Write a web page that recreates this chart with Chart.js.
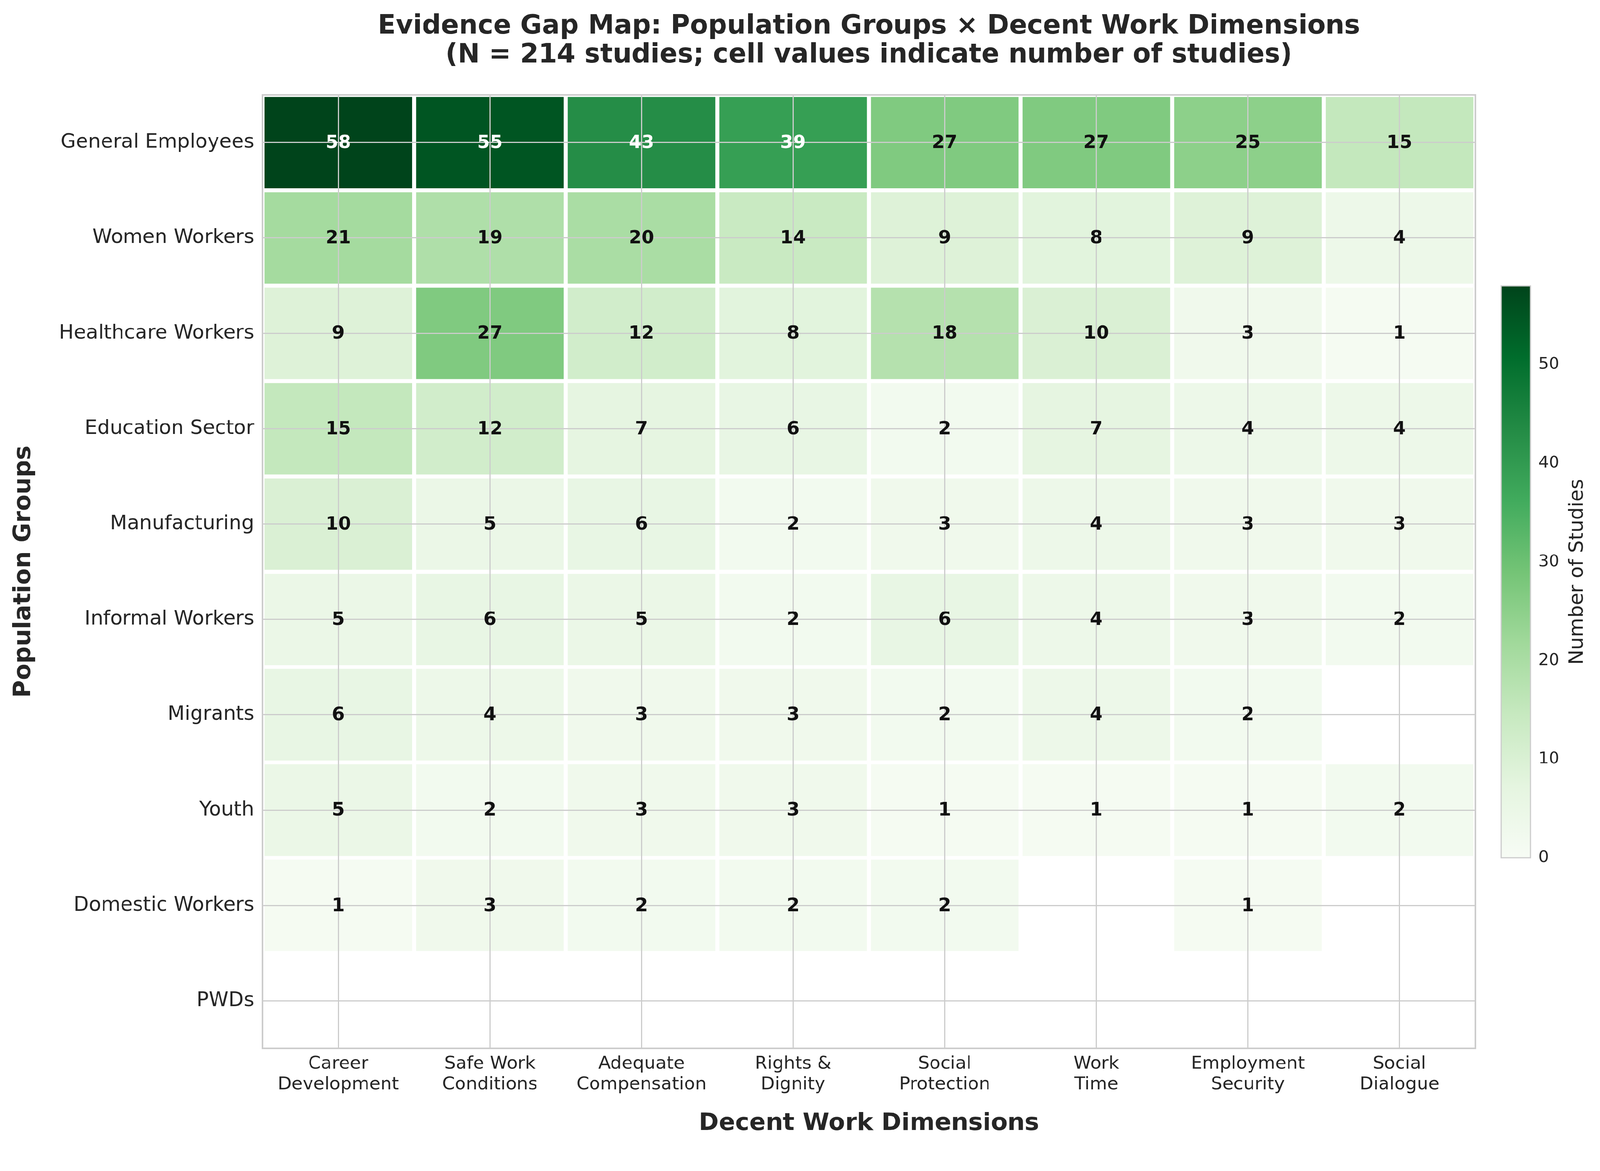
<!DOCTYPE html>
<html>
<head>
<meta charset="utf-8">
<title>Evidence Gap Map</title>
<script src="https://cdn.jsdelivr.net/npm/chart.js@4.4.1/dist/chart.umd.min.js"></script>
<style>
  html, body { margin: 0; padding: 0; background: #fff; overflow: hidden; }
  #wrap { position: relative; width: 4181px; height: 2998px; transform-origin: 0 0; }
  #heatmap { position: absolute; left: 0; top: 0; }
  #colorbar { position: absolute; left: 3900px; top: 700px; }
</style>
</head>
<body>
<div id="wrap">
  <canvas id="heatmap" width="4181" height="2998"></canvas>
  <canvas id="colorbar" width="281" height="1600"></canvas>
</div>
<script>
// --- data ---
const dimensionLabels = [
    ['Career', 'Development'], ['Safe Work', 'Conditions'], ['Adequate', 'Compensation'],
    ['Rights &', 'Dignity'], ['Social', 'Protection'], ['Work', 'Time'],
    ['Employment', 'Security'], ['Social', 'Dialogue']
];
const populationGroups = [
    'General Employees', 'Women Workers', 'Healthcare Workers', 'Education Sector',
    'Manufacturing', 'Informal Workers', 'Migrants', 'Youth', 'Domestic Workers', 'PWDs'
];

// studies per dimension, one array per population group (0 = no evidence, left blank)
const generalEmployees  = [58, 55, 43, 39, 27, 27, 25, 15];
const womenWorkers      = [21, 19, 20, 14, 9, 8, 9, 4];
const healthcareWorkers = [9, 27, 12, 8, 18, 10, 3, 1];
const educationSector   = [15, 12, 7, 6, 2, 7, 4, 4];
const manufacturing     = [10, 5, 6, 2, 3, 4, 3, 3];
const informalWorkers   = [5, 6, 5, 2, 6, 4, 3, 2];
const migrants          = [6, 4, 3, 3, 2, 4, 2, 0];
const youth             = [5, 2, 3, 3, 1, 1, 1, 2];
const domesticWorkers   = [1, 3, 2, 2, 2, 0, 1, 0];
const pwds              = [0, 0, 0, 0, 0, 0, 0, 0];

const colorbarTicks = [0, 10, 20, 30, 40, 50];
const colorMin = 0;
const colorMax = 58;

const titleLines = [
    'Evidence Gap Map: Population Groups \u00d7 Decent Work Dimensions',
    '(N = 214 studies; cell values indicate number of studies)'
];

const rowValues = [generalEmployees, womenWorkers, healthcareWorkers, educationSector,
    manufacturing, informalWorkers, migrants, youth, domesticWorkers, pwds];

// matplotlib "Greens"
const greensStops = ['#f7fcf5', '#e5f5e0', '#c7e9c0', '#a1d99b', '#74c476',
                     '#41ab5d', '#238b45', '#006d2c', '#00441b'];

// the layout below is in 4181x2998 figure pixels; fit it to whatever the viewport really is
const wrap = document.getElementById('wrap');
const fit = Math.min(window.innerWidth / 4181, window.innerHeight / 2998) || 1;
if (Math.abs(fit - 1) > 0.001) wrap.style.transform = `scale(${fit})`;

function hexToRgb(h) {
    return [parseInt(h.slice(1, 3), 16), parseInt(h.slice(3, 5), 16), parseInt(h.slice(5, 7), 16)];
}

function greensRgb(v) {
    let t = (v - colorMin) / (colorMax - colorMin);
    t = Math.max(0, Math.min(1, t));
    const pos = t * (greensStops.length - 1);
    const i = Math.min(Math.floor(pos), greensStops.length - 2);
    const f = pos - i;
    const a = hexToRgb(greensStops[i]), b = hexToRgb(greensStops[i + 1]);
    return a.map((c, k) => Math.round(c + (b[k] - c) * f));
}

function greens(v) {
    const [r, g, b] = greensRgb(v);
    return `rgb(${r}, ${g}, ${b})`;
}

// same rule seaborn uses to pick the annotation colour
function textColorFor(v) {
    const lin = greensRgb(v).map(c => {
        c = c / 255;
        return c <= 0.03928 ? c / 12.92 : Math.pow((c + 0.055) / 1.055, 2.4);
    });
    const lum = 0.2126 * lin[0] + 0.7152 * lin[1] + 0.0722 * lin[2];
    return lum > 0.408 ? '#111111' : '#ffffff';
}

Chart.defaults.font.family = "'DejaVu Sans', sans-serif";
Chart.defaults.color = '#262626';

const FONT = "'DejaVu Sans', sans-serif";
const GRID = '#cccccc';

// axes title centred over the plot area, frame and cell numbers on top
const heatmapOverlay = {
    id: 'heatmapOverlay',
    afterDraw(chart) {
        const { ctx, chartArea: ca, scales } = chart;
        ctx.save();
        ctx.strokeStyle = GRID;
        ctx.lineWidth = 4;
        ctx.strokeRect(ca.left, ca.top, ca.right - ca.left, ca.bottom - ca.top);

        ctx.textAlign = 'center';
        ctx.textBaseline = 'middle';
        ctx.fillStyle = '#262626';
        ctx.font = `bold 69px ${FONT}`;
        const cx = (ca.left + ca.right) / 2;
        titleLines.forEach((line, i) => ctx.fillText(line, cx, 70 + i * 75));

        ctx.font = `bold 48px ${FONT}`;
        rowValues.forEach((row, r) => {
            row.forEach((v, c) => {
                if (!v) return;
                ctx.fillStyle = textColorFor(v);
                ctx.fillText(String(v), scales.x.getPixelForValue(c), scales.y.getPixelForValue(r) + 2);
            });
        });
        ctx.restore();
    }
};

new Chart(document.getElementById('heatmap'), {
    type: 'bar',
    data: {
        labels: dimensionLabels,
        datasets: rowValues.map((row, r) => ({
            label: populationGroups[r],
            data: row.map(v => v > 0 ? [r - 0.5, r + 0.5] : null),
            backgroundColor: row.map(v => greens(v)),
            borderColor: '#ffffff',
            borderWidth: 5.5,
            borderSkipped: false,
            barPercentage: 1,
            categoryPercentage: 1,
            grouped: false
        }))
    },
    options: {
        responsive: false,
        devicePixelRatio: 1,
        animation: false,
        layout: { padding: { left: 0, right: 326, top: 248, bottom: 0 } },
        plugins: {
            legend: { display: false },
            tooltip: { enabled: false },
            title: { display: false }
        },
        scales: {
            x: {
                type: 'category',
                offset: true,
                grid: { offset: false, color: GRID, lineWidth: 3, drawTicks: false, z: 1 },
                border: { display: false },
                ticks: { font: { size: 47, lineHeight: 1.15 }, padding: 14, maxRotation: 0, autoSkip: false },
                title: {
                    display: true,
                    text: 'Decent Work Dimensions',
                    font: { size: 63, weight: 'bold' },
                    padding: { top: 24, bottom: 24 }
                },
                afterFit(scale) { scale.height = 258; }
            },
            y: {
                type: 'linear',
                min: -0.5,
                max: populationGroups.length - 0.5,
                reverse: true,
                grid: { color: GRID, lineWidth: 3, drawTicks: false, z: 1 },
                border: { display: false },
                afterBuildTicks(scale) {
                    scale.ticks = populationGroups.map((_, i) => ({ value: i }));
                },
                ticks: {
                    font: { size: 52 },
                    padding: 22,
                    callback: v => populationGroups[v]
                },
                title: {
                    display: true,
                    text: 'Population Groups',
                    font: { size: 63, weight: 'bold' },
                    padding: { top: 25, bottom: 25 }
                },
                afterFit(scale) { scale.width = 686; }
            }
        }
    },
    plugins: [heatmapOverlay]
});

// --- colour bar ---
const colorbarOverlay = {
    id: 'colorbarOverlay',
    afterDraw(chart) {
        const { ctx, chartArea: ca } = chart;
        ctx.save();
        ctx.strokeStyle = GRID;
        ctx.lineWidth = 3;
        ctx.strokeRect(ca.left, ca.top, ca.right - ca.left, ca.bottom - ca.top);
        ctx.translate(222, (ca.top + ca.bottom) / 2);
        ctx.rotate(-Math.PI / 2);
        ctx.font = `52px ${FONT}`;
        ctx.fillStyle = '#262626';
        ctx.textAlign = 'center';
        ctx.textBaseline = 'middle';
        ctx.fillText('Number of Studies', 0, 0);
        ctx.restore();
    }
};

new Chart(document.getElementById('colorbar'), {
    type: 'bar',
    data: {
        labels: ['scale'],
        datasets: [{
            data: [[colorMin, colorMax]],
            backgroundColor(context) {
                const ca = context.chart.chartArea;
                if (!ca) return greens(colorMax);
                const g = context.chart.ctx.createLinearGradient(0, ca.bottom, 0, ca.top);
                greensStops.forEach((c, i) => g.addColorStop(i / (greensStops.length - 1), c));
                return g;
            },
            borderWidth: 0,
            barPercentage: 1,
            categoryPercentage: 1
        }]
    },
    options: {
        responsive: false,
        devicePixelRatio: 1,
        animation: false,
        layout: { padding: { left: 23, right: 0, top: 47, bottom: 58 } },
        plugins: { legend: { display: false }, tooltip: { enabled: false } },
        scales: {
            x: { display: false, offset: true },
            y: {
                position: 'right',
                min: colorMin,
                max: colorMax,
                grid: { display: false, drawTicks: false },
                border: { display: false },
                afterBuildTicks(scale) {
                    scale.ticks = colorbarTicks.map(v => ({ value: v }));
                },
                ticks: { font: { size: 43 }, padding: 21 },
                afterFit(scale) { scale.width = 182; }
            }
        }
    },
    plugins: [colorbarOverlay]
});
</script>
</body>
</html>
